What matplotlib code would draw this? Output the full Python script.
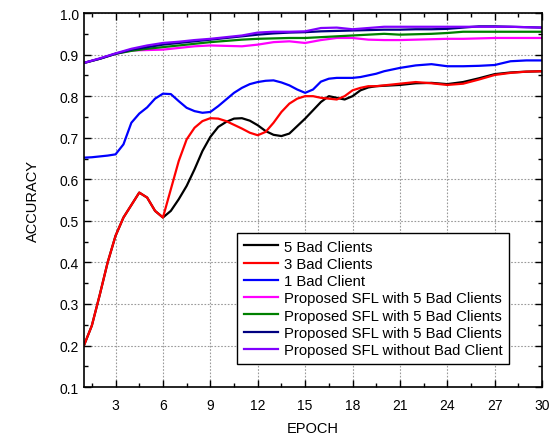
"""
Accuracy vs. epoch for clients with and without bad clients.
"""

import numpy as np
import matplotlib
matplotlib.use("Agg")
import matplotlib.pyplot as plt
from matplotlib.ticker import MultipleLocator, FormatStrFormatter

plt.rcParams["font.family"] = ["Liberation Sans", "DejaVu Sans"]

# the three lower curves are read every half epoch up to 19.5, then every epoch
epochs_low = np.concatenate([np.arange(1, 20, 0.5), np.arange(20, 31)])
epochs = np.arange(1, 31)

bad5 = [0.200, 0.248, 0.322, 0.400, 0.464, 0.508, 0.538, 0.568, 0.556, 0.524,
        0.508, 0.524, 0.552, 0.584, 0.624, 0.668, 0.702, 0.726, 0.738, 0.746,
        0.747, 0.741, 0.730, 0.716, 0.707, 0.704, 0.710, 0.728, 0.746, 0.766,
        0.786, 0.800, 0.796, 0.792, 0.800, 0.814, 0.821, 0.824,
        0.825, 0.827, 0.831, 0.832, 0.829, 0.834, 0.843, 0.853, 0.857, 0.859, 0.860]
bad3 = [0.200, 0.248, 0.322, 0.400, 0.464, 0.508, 0.538, 0.568, 0.556, 0.524,
        0.508, 0.576, 0.644, 0.696, 0.724, 0.740, 0.747, 0.746, 0.740, 0.731,
        0.722, 0.712, 0.706, 0.714, 0.736, 0.762, 0.782, 0.794, 0.800, 0.800,
        0.796, 0.794, 0.792, 0.800, 0.814, 0.820, 0.824, 0.824,
        0.826, 0.830, 0.834, 0.831, 0.827, 0.830, 0.840, 0.851, 0.856, 0.859, 0.860]
bad1 = [0.652, 0.653, 0.655, 0.657, 0.660, 0.684, 0.736, 0.758, 0.773, 0.794,
        0.806, 0.805, 0.788, 0.772, 0.764, 0.760, 0.762, 0.776, 0.792, 0.808,
        0.820, 0.829, 0.834, 0.837, 0.838, 0.833, 0.826, 0.816, 0.808, 0.816,
        0.835, 0.842, 0.844, 0.844, 0.844, 0.846, 0.850, 0.854,
        0.860, 0.868, 0.874, 0.877, 0.872, 0.872, 0.873, 0.875, 0.884, 0.886, 0.886]
sfl_magenta = [0.880, 0.890, 0.902, 0.910, 0.911, 0.912, 0.916, 0.920, 0.922, 0.921,
               0.920, 0.924, 0.930, 0.932, 0.928, 0.935, 0.940, 0.940, 0.936, 0.935,
               0.935, 0.936, 0.937, 0.938, 0.938, 0.939, 0.940, 0.940, 0.940, 0.940]
sfl_green = [0.880, 0.890, 0.902, 0.909, 0.914, 0.918, 0.922, 0.926, 0.930, 0.933,
             0.936, 0.938, 0.939, 0.940, 0.940, 0.942, 0.944, 0.946, 0.948, 0.950,
             0.948, 0.949, 0.950, 0.952, 0.955, 0.955, 0.955, 0.955, 0.955, 0.955]
sfl_navy = [0.880, 0.890, 0.902, 0.912, 0.918, 0.924, 0.928, 0.932, 0.936, 0.940,
            0.944, 0.948, 0.951, 0.953, 0.954, 0.956, 0.957, 0.958, 0.959, 0.960,
            0.960, 0.961, 0.961, 0.962, 0.965, 0.968, 0.968, 0.967, 0.966, 0.965]
sfl_purple = [0.880, 0.891, 0.903, 0.914, 0.922, 0.928, 0.931, 0.935, 0.938, 0.942,
              0.946, 0.953, 0.955, 0.955, 0.956, 0.964, 0.965, 0.961, 0.964, 0.967,
              0.967, 0.967, 0.967, 0.967, 0.967, 0.967, 0.967, 0.967, 0.966, 0.965]

series = [
    ("5 Bad Clients", epochs_low, bad5, "#000000"),
    ("3 Bad Clients", epochs_low, bad3, "#ff0000"),
    ("1 Bad Client", epochs_low, bad1, "#0000ff"),
    ("Proposed SFL with 5 Bad Clients", epochs, sfl_magenta, "#ff00ff"),
    ("Proposed SFL with 5 Bad Clients", epochs, sfl_green, "#008000"),
    ("Proposed SFL with 5 Bad Clients", epochs, sfl_navy, "#000080"),
    ("Proposed SFL without Bad Client", epochs, sfl_purple, "#8000ff"),
]

fig = plt.figure(figsize=(5.56, 4.39), dpi=100)
ax = fig.add_axes([0.151, 0.116, 0.824, 0.852])

for label, x, vals, color in series:
    ax.plot(x, vals, color=color, lw=1.6, label=label)

ax.set_xlim(1, 30)
ax.set_ylim(0.1, 1.0)
ax.xaxis.set_major_locator(MultipleLocator(3))
ax.xaxis.set_minor_locator(MultipleLocator(1.5))
ax.yaxis.set_major_locator(MultipleLocator(0.1))
ax.yaxis.set_minor_locator(MultipleLocator(0.05))
ax.yaxis.set_major_formatter(FormatStrFormatter("%.1f"))
ax.tick_params(which="both", direction="in", top=True, right=True, labelsize=10)
ax.tick_params(which="major", length=5, width=1)
ax.tick_params(which="minor", length=3, width=1)
ax.tick_params(axis="x", pad=8)
ax.grid(True, which="major", color="#9a9a9a", ls=(0, (1.5, 1.5)), lw=0.8)
for sp in ax.spines.values():
    sp.set_linewidth(1.2)

ax.set_xlabel("EPOCH", fontsize=10.5, labelpad=6)
ax.set_ylabel("ACCURACY", fontsize=10.5, labelpad=14)

leg = ax.legend(loc="lower left", bbox_to_anchor=(0.335, 0.062), fontsize=10.7,
                fancybox=False, framealpha=1, edgecolor="black",
                handlelength=2.3, labelspacing=0.22, borderpad=0.45,
                handletextpad=0.35, borderaxespad=0)
leg.get_frame().set_linewidth(1.0)

fig.savefig("out.png", dpi=100)
